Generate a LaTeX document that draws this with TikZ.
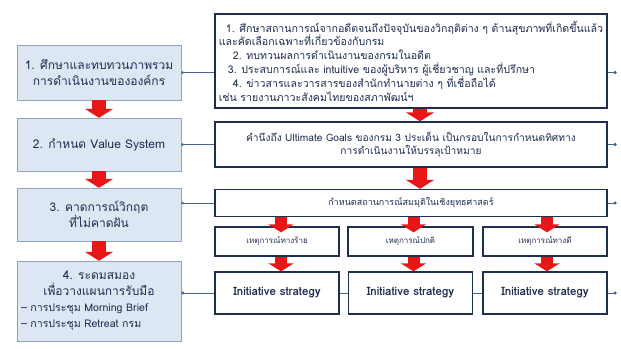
\documentclass[tikz,border=0pt]{standalone}
\usepackage{fontspec}
\setmainfont[Script=Thai]{Loma}
\usepackage{tikz}
\usetikzlibrary{positioning,arrows.meta,calc}

\definecolor{navy}{RGB}{31,45,80}
\definecolor{stepfill}{RGB}{221,231,243}
\definecolor{stepline}{RGB}{145,165,190}
\definecolor{wireblue}{RGB}{70,100,135}
\definecolor{flowred}{RGB}{232,22,22}

\tikzset{
  stepbox/.style={draw=stepline, fill=stepfill, text=navy, align=center,
    minimum width=164pt, inner sep=2pt, font=\fontsize{12}{16}\selectfont},
  infobox/.style={draw=navy, line width=1.3pt, fill=white, text=navy,
    align=center, inner sep=2pt, font=\fontsize{8}{13}\selectfont},
  wire/.style={draw=wireblue, line width=0.9pt},
  flow/.style={flowred, line width=14pt, -{Triangle[width=28pt,length=9pt]}},
  subflow/.style={flowred, line width=12pt, -{Triangle[width=25pt,length=8pt]}},
}

\begin{document}
\begin{tikzpicture}[x=1pt, y=-1pt]
  \useasboundingbox (0,0) rectangle (621,348);
  % left column: the four steps
  \node[stepbox, minimum height=55pt] (step1) at (99,72.5)
    {1. ศึกษาและทบทวนภาพรวม\\การดำเนินงานขององค์กร};
  \node[stepbox, minimum height=53pt] (step2) at (99,144.5)
    {2. กำหนด Value System};
  \node[stepbox, minimum height=53pt] (step3) at (99,214.5)
    {3. คาดการณ์วิกฤต\\ที่ไม่คาดฝัน};
  \node[stepbox, minimum height=80pt, font=\fontsize{12}{16}\selectfont] (step4) at (99,301)
    {4. ระดมสมอง\\เพื่อวางแผนการรับมือ\\
     \makebox[156pt][l]{\fontsize{10.6}{16}\selectfont -- การประชุม Morning Brief}\\
     \makebox[156pt][l]{\fontsize{10.6}{16}\selectfont -- การประชุม Retreat กรม}};
  % right column: details of each step
  \node[infobox, minimum width=392pt, minimum height=94pt, align=left,
    font=\fontsize{10.6}{13.8}\selectfont] (info1) at (411,61)
    {\hspace*{7pt}1. ศึกษาสถานการณ์จากอดีตจนถึงปัจจุบันของวิกฤติต่าง ๆ ด้านสุขภาพที่เกิดขึ้นแล้ว\\
     และคัดเลือกเฉพาะที่เกี่ยวข้องกับกรม\\
     \hspace*{14pt}2. ทบทวนผลการดำเนินงานของกรมในอดีต\\
     \hspace*{9pt}3. ประสบการณ์และ intuitive ของผู้บริหาร ผู้เชี่ยวชาญ และที่ปรึกษา\\
     \hspace*{14pt}4. ข่าวสารและวารสารของสำนักทำนายต่าง ๆ ที่เชื่อถือได้\\
     เช่น รายงานภาวะสังคมไทยของสภาพัฒน์ฯ};
  \node[infobox, minimum width=392pt, minimum height=45pt,
    font=\fontsize{10.2}{13.5}\selectfont] (info2) at (411,144.5)
    {คำนึงถึง Ultimate Goals ของกรม 3 ประเด็น เป็นกรอบในการกำหนดทิศทาง\\
     การดำเนินงานให้บรรลุเป้าหมาย};
  \node[infobox, minimum width=392pt, minimum height=27pt,
    font=\fontsize{9}{12}\selectfont] (info3) at (411,203)
    {กำหนดสถานการณ์สมมุติในเชิงยุทธศาสตร์};
  % scenarios
  \node[infobox, minimum width=124pt, minimum height=29pt] (worst) at (277,241.5)
    {เหตุการณ์ทางร้าย};
  \node[infobox, minimum width=125pt, minimum height=29pt] (usual) at (410.5,241.5)
    {เหตุการณ์ปกติ};
  \node[infobox, minimum width=124pt, minimum height=29pt] (best) at (545,241.5)
    {เหตุการณ์ทางดี};
  % initiative strategies
  \foreach \nm/\x in {initA/277, initB/410.5, initC/545}
    \node[infobox, minimum width=124pt, minimum height=42pt,
      font=\fontsize{11.5}{14}\bfseries] (\nm) at (\x,293) {Initiative strategy};
  % links from steps to details
  \draw[wire, {Circle[length=2.5pt]}-] (step1.east) -- (step1.east -| info1.west);
  \draw[wire, {Circle[length=2.5pt]}-] (step2.east) -- (step2.east -| info2.west);
  \draw[wire, {Circle[length=2.5pt]}-] (info3.west -| step3.east) -- (info3.west);
  \draw[wire, {Circle[length=3pt]}-] (initA.west -| step4.east) -- (initA.west);
  \draw[wire] (initA) -- (initB) (initB) -- (initC);
  % free ends on the right
  \coordinate (end1) at ([xshift=9pt]info1.east |- step1.east);
  \coordinate (end2) at ([xshift=9pt]info2.east);
  \coordinate (end3) at ([xshift=9pt]info3.east);
  \coordinate (end4) at ([xshift=9pt]initC.east);
  \draw[wire, -{Circle[length=3pt]}] (info1.east |- end1) -- (end1);
  \draw[wire, -{Circle[length=3pt]}] (info2.east) -- (end2);
  \draw[wire, -{Circle[length=3pt]}] (info3.east) -- (end3);
  \draw[wire, -{Circle[length=3pt]}] (initC.east) -- (end4);
  % red flow arrows
  \draw[flow] (step1.south) -- (step2.north);
  \draw[flow] (step2.south) -- (step3.north);
  \draw[flow] (step3.south) -- (step4.north);
  \draw[flow] ([xshift=9pt]info1.south) -- ([xshift=9pt]info2.north);
  \draw[flow] ([xshift=9pt]info2.south) -- ([xshift=9pt]info3.north);
  \draw[subflow] ([xshift=4pt]info3.south -| worst) -- ([xshift=4pt,yshift=-6pt]worst.north);
  \draw[subflow] ([xshift=3pt]info3.south -| usual) -- ([xshift=3pt,yshift=-6pt]usual.north);
  \draw[subflow] ([xshift=2pt]info3.south -| best) -- ([xshift=2pt,yshift=-6pt]best.north);
  \draw[subflow] ([xshift=4pt]worst.south) -- ([xshift=4pt]initA.north);
  \draw[subflow] ([xshift=3pt]usual.south) -- ([xshift=3pt]initB.north);
  \draw[subflow] ([xshift=2pt]best.south) -- ([xshift=2pt]initC.north);
\end{tikzpicture}
\end{document}
